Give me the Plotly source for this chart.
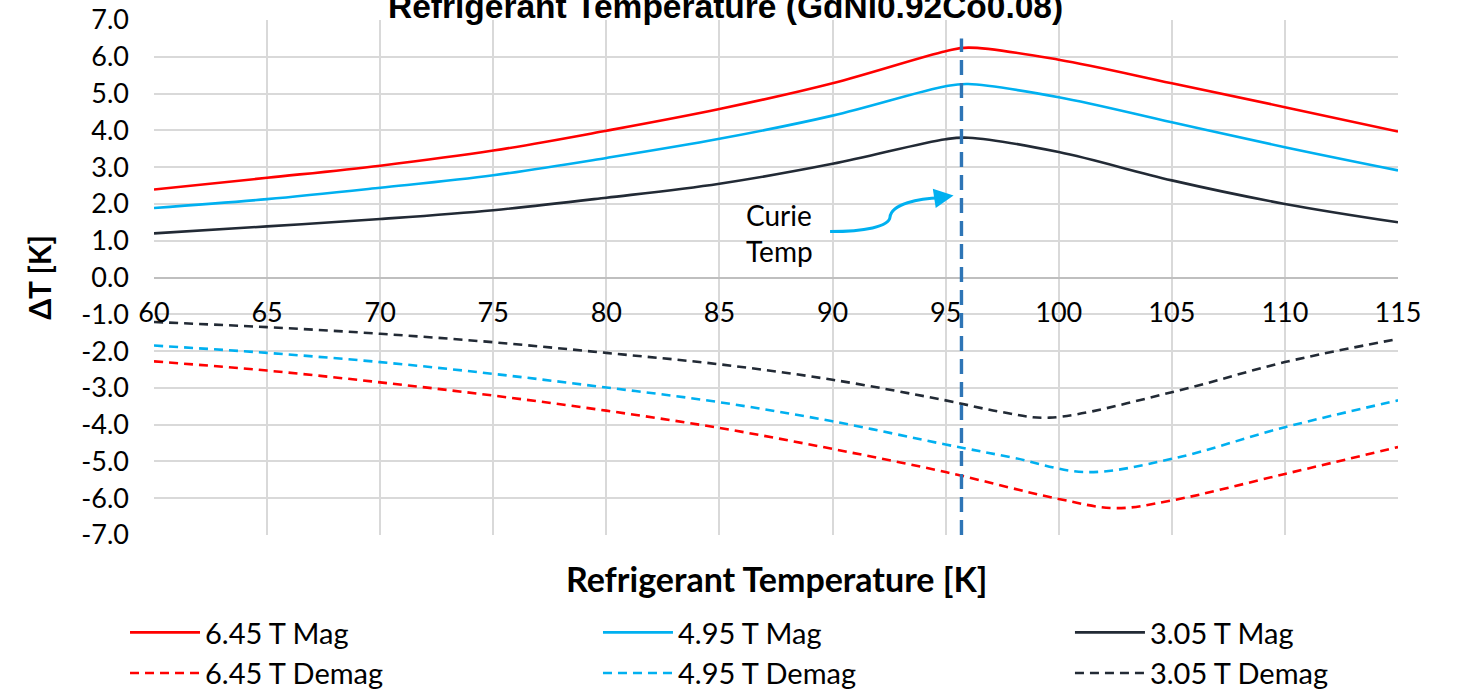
import plotly.graph_objects as go

# Refrigerant temperature grid [K] and adiabatic temperature change [K]
mag_temp = [60, 65, 70, 75, 80, 85, 90, 95, 96, 100, 105, 110, 115]
mag_645 = [2.39, 2.71, 3.04, 3.45, 3.99, 4.58, 5.28, 6.15, 6.25, 5.92, 5.28, 4.63, 3.97]
mag_495 = [1.89, 2.13, 2.44, 2.78, 3.25, 3.77, 4.40, 5.20, 5.26, 4.90, 4.22, 3.54, 2.91]
mag_305 = [1.20, 1.39, 1.59, 1.83, 2.17, 2.55, 3.09, 3.76, 3.80, 3.41, 2.64, 2.00, 1.50]

demag_645_temp = [60, 65, 70, 75, 80, 85, 90, 95, 100, 102.5, 105, 110, 115]
demag_645 = [-2.28, -2.53, -2.85, -3.21, -3.62, -4.09, -4.66, -5.29, -6.02, -6.27, -6.06, -5.34, -4.61]
demag_495_temp = [60, 65, 70, 75, 80, 85, 90, 95, 98, 101.2, 105, 110, 115]
demag_495 = [-1.85, -2.05, -2.30, -2.62, -2.99, -3.39, -3.91, -4.54, -4.90, -5.29, -4.93, -4.07, -3.34]
demag_305_temp = [60, 65, 70, 75, 80, 85, 90, 95, 97.5, 99.6, 105, 110, 115]
demag_305 = [-1.21, -1.35, -1.53, -1.76, -2.05, -2.36, -2.78, -3.34, -3.66, -3.81, -3.12, -2.30, -1.67]

# y-axis ticks, labelled with a plain hyphen for negatives
y_ticks = list(range(-7, 8))
y_tick_labels = ["%.1f" % v for v in y_ticks]

curie_temp = 95.7

RED = "#FF0000"
BLUE = "#00B0F0"
DARK = "#222A35"
FONT = "Lato"

series = [
    ("6.45 T Mag", mag_temp, mag_645, RED, "solid", "legend"),
    ("4.95 T Mag", mag_temp, mag_495, BLUE, "solid", "legend2"),
    ("3.05 T Mag", mag_temp, mag_305, DARK, "solid", "legend3"),
    ("6.45 T Demag", demag_645_temp, demag_645, RED, "9px,6px", "legend"),
    ("4.95 T Demag", demag_495_temp, demag_495, BLUE, "9px,6px", "legend2"),
    ("3.05 T Demag", demag_305_temp, demag_305, DARK, "9px,6px", "legend3"),
]

fig = go.Figure()
for name, xs, ys, color, dash, leg in series:
    fig.add_trace(go.Scatter(
        x=xs, y=ys, name=name, mode="lines", legend=leg,
        line=dict(color=color, width=2.6, dash=dash, shape="spline", smoothing=1.0),
    ))

# Curie temperature marker
fig.add_shape(type="line", x0=curie_temp, x1=curie_temp, y0=-7, y1=6.5,
              xref="x", yref="y", layer="above",
              line=dict(color="#2E75B6", width=3.4, dash="15px,8px"))

# curved callout arrow
fig.add_shape(type="path", xref="x", yref="y", layer="above",
              path="M 89.89,1.25 C 91.4,1.25 92.5,1.38 92.54,1.64 C 92.6,2.0 93.8,2.15 94.8,2.17",
              line=dict(color=BLUE, width=3))
fig.add_annotation(x=95.35, y=2.23, ax=94.7, ay=2.17, xref="x", yref="y",
                   axref="x", ayref="y", text="", showarrow=True,
                   arrowhead=2, arrowsize=1.3, arrowwidth=3, arrowcolor=BLUE)
fig.add_annotation(x=86.1, y=1.2, xref="x", yref="y", text="Curie<br>Temp",
                   showarrow=False, xanchor="left", align="left",
                   font=dict(family=FONT, size=28, color="#000000"))

# chart title
fig.add_annotation(x=0.4598, y=1, xref="paper", yref="paper", yanchor="bottom",
                   yshift=-7, showarrow=False,
                   text="<b>Refrigerant Temperature (GdNi0.92Co0.08)</b>",
                   font=dict(family="Liberation Sans", size=33.5, color="#000000"))

# x-axis title
fig.add_annotation(x=0.5, y=0, xref="paper", yref="paper", yanchor="middle",
                   yshift=-43, showarrow=False,
                   text="<b>Refrigerant Temperature [K]</b>",
                   font=dict(family=FONT, size=34, color="#000000"))

legend_common = dict(orientation="v", yanchor="top", y=-0.1398, xanchor="left",
                     itemwidth=70, tracegroupgap=0, bgcolor="rgba(0,0,0,0)",
                     font=dict(family=FONT, size=29, color="#000000"))

fig.update_layout(
    width=1457, height=692,
    margin=dict(l=154, r=59, t=20, b=157, autoexpand=False),
    paper_bgcolor="white", plot_bgcolor="white",
    showlegend=True,
    legend=dict(x=-0.0233, **legend_common),
    legend2=dict(x=0.3569, **legend_common),
    legend3=dict(x=0.7363, **legend_common),
    xaxis=dict(
        range=[60, 115], dtick=5, tick0=60,
        anchor="free", position=0.5,
        showgrid=True, gridcolor="#D9D9D9", gridwidth=2,
        showline=False, zeroline=False,
        ticks="", ticklabelstandoff=16, tickangle=0,
        tickfont=dict(family=FONT, size=27, color="#000000"),
        automargin=False,
    ),
    yaxis=dict(
        range=[-7, 7], tickmode="array", tickvals=y_ticks, ticktext=y_tick_labels,
        showgrid=True, gridcolor="#D9D9D9", gridwidth=2,
        zeroline=True, zerolinecolor="#BFBFBF", zerolinewidth=2,
        ticks="", ticklabelstandoff=24,
        tickfont=dict(family=FONT, size=27, color="#000000"),
        title=dict(text="<b>ΔT [K]</b>", standoff=20,
                   font=dict(family=FONT, size=30, color="#000000")),
        automargin=False,
    ),
)

fig.write_html("out.html")
